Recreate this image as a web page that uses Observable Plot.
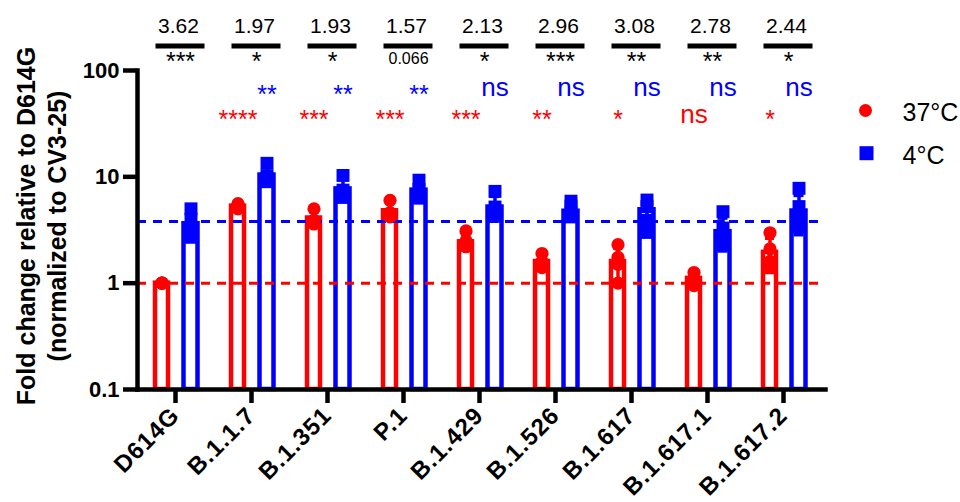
<!DOCTYPE html>
<html><head><meta charset="utf-8">
<script src="https://cdn.jsdelivr.net/npm/d3@7"></script>
<script src="https://cdn.jsdelivr.net/npm/@observablehq/plot@0.6"></script>
<style>body{margin:0;background:#fff;} g[aria-label="x-axis tick label"] text{letter-spacing:1px;}</style>
</head><body><div id="chart"></div>
<script>
const variants = ["D614G","B.1.1.7","B.1.351","P.1","B.1.429","B.1.526","B.1.617","B.1.617.1","B.1.617.2"];
const mean37 = [1.0, 5.3, 4.1, 4.8, 2.45, 1.6, 1.6, 1.11, 1.95];
const mean4  = [3.62, 10.4, 7.7, 7.5, 5.2, 4.75, 4.9, 3.05, 4.77];
const reps37 = [[1,1,1,1],[5.6,5.4,5.1,5.0],[5.0,3.9,3.8,3.6],[6.0,4.6,4.3,4.2],[3.1,2.5,2.3,2.2],[1.9,1.6,1.5,1.4],[2.3,1.75,1.5,1.0],[1.26,1.1,0.95],[2.98,2.1,1.6,1.45]];
const reps4  = [[5.0,4.0,3.3,2.7],[13.4,10.2,9.6,9.0],[10.3,7.5,6.8,6.4],[9.3,7.6,6.9,6.3],[7.3,5.2,4.6,4.3],[5.9,5.3,4.6,4.2],[6.05,5.25,3.9,3.0],[4.7,3.3,2.75,2.3],[7.8,5.25,4.2,3.4]];
const ratios = ["3.62","1.97","1.93","1.57","2.13","2.96","3.08","2.78","2.44"];
const ratioSig = ["***","*","*","0.066","*","***","**","**","*"];
const sig4  = ["","**","**","**","ns","ns","ns","ns","ns"];
const sig37 = ["","****","***","***","***","**","*","ns","*"];
const refLines = [1, 3.8];
const yTicks = [0.1, 1, 10, 100];
const legendLabels = ["37°C", "4°C"];
const yLabel = "Fold change relative to D614G\n(normalized to CV3-25)";

const RED = "#ff0000", BLUE = "#0000ff";
const rows = variants.map((v, i) => {
  const s37 = d3.deviation(reps37[i]) || 0, s4 = d3.deviation(reps4[i]) || 0;
  return {variant: v, m37: mean37[i], m4: mean4[i],
    lo37: Math.max(mean37[i] - s37, 0.11), hi37: mean37[i] + s37,
    lo4: Math.max(mean4[i] - s4, 0.11), hi4: mean4[i] + s4,
    ratio: ratios[i], rsig: ratioSig[i], s4: sig4[i], s37: sig37[i]};
});
const pts37 = variants.flatMap((v, i) => reps37[i].map(value => ({variant: v, value})));
const pts4 = variants.flatMap((v, i) => reps4[i].map(value => ({variant: v, value})));
const isStars = s => s.includes("*");

const chart = Plot.plot({
  width: 960, height: 502,
  marginLeft: 137, marginRight: 135, marginTop: 70, marginBottom: 113,
  style: {fontFamily: "'Liberation Sans', Arial, sans-serif", background: "#fff", color: "#000", overflow: "visible"},
  x: {type: "band", domain: variants, range: [132.5, 825], padding: 0},
  y: {type: "log", domain: [0.1, 100]},
  marks: [
    Plot.barY(rows, {x: "variant", y1: 0.1, y2: "m37", fill: "white", stroke: RED, strokeWidth: 4.5, insetLeft: 18, insetRight: 45}),
    Plot.barY(rows, {x: "variant", y1: 0.1, y2: "m4", fill: "white", stroke: BLUE, strokeWidth: 4.5, insetLeft: 46.5, insetRight: 15.5}),
    Plot.ruleX(rows, {x: "variant", y1: "lo37", y2: "hi37", dx: -13.5, stroke: RED, strokeWidth: 3.5}),
    Plot.tickY(rows, {x: "variant", y: "hi37", stroke: RED, strokeWidth: 3.5, insetLeft: 20, insetRight: 47}),
    Plot.tickY(rows, {x: "variant", y: "lo37", stroke: RED, strokeWidth: 3.5, insetLeft: 20, insetRight: 47}),
    Plot.ruleX(rows, {x: "variant", y1: "lo4", y2: "hi4", dx: 15.5, stroke: BLUE, strokeWidth: 3.5}),
    Plot.tickY(rows, {x: "variant", y: "hi4", stroke: BLUE, strokeWidth: 3.5, insetLeft: 48.5, insetRight: 17.5}),
    Plot.tickY(rows, {x: "variant", y: "lo4", stroke: BLUE, strokeWidth: 3.5, insetLeft: 48.5, insetRight: 17.5}),
    Plot.ruleY([refLines[0]], {stroke: RED, strokeWidth: 3, strokeDasharray: "9,7"}),
    Plot.ruleY([refLines[1]], {stroke: BLUE, strokeWidth: 3, strokeDasharray: "9,7"}),
    Plot.dot(pts37, {x: "variant", y: "value", dx: -13.5, r: 6.6, fill: RED}),
    Plot.dot(pts4, {x: "variant", y: "value", dx: 15.5, symbol: "square", r: 7.3, fill: BLUE}),
    Plot.axisY({ticks: yTicks, tickFormat: d => String(d), tickSize: 14, tickPadding: 4, fontSize: 22, fontWeight: "bold", strokeWidth: 4.5, label: null}),
    Plot.axisX({tickSize: 14, tickPadding: 8, tickRotate: -45, fontSize: 24, fontWeight: "bold", strokeWidth: 4.5, label: null}),
    Plot.frame({anchor: "left", strokeWidth: 4.5, strokeLinecap: "square"}),
    Plot.frame({anchor: "bottom", strokeWidth: 4.5, strokeLinecap: "square"}),
    // top comparison annotations
    Plot.text(rows, {x: "variant", text: "ratio", frameAnchor: "top", dy: -38, dx: 3, lineAnchor: "bottom", fontSize: 21}),
    Plot.tickY(rows, {x: "variant", y: 100, dy: -24.5, stroke: "black", strokeWidth: 5, insetLeft: 18.5, insetRight: 8.5}),
    Plot.text(rows, {x: "variant", text: "rsig", frameAnchor: "top", dy: -18, dx: 5, lineAnchor: "top", fontSize: d => isStars(d.rsig) ? 25 : 16}),
    Plot.text(rows.filter(d => isStars(d.s4)), {x: "variant", text: "s4", frameAnchor: "top", dy: 32, dx: 15.5, lineAnchor: "bottom", fontSize: 25, fill: BLUE}),
    Plot.text(rows.filter(d => d.s4 === "ns"), {x: "variant", text: "s4", frameAnchor: "top", dy: 25, dx: 15.5, lineAnchor: "bottom", fontSize: 26, fill: BLUE}),
    Plot.text(rows.filter(d => isStars(d.s37)), {x: "variant", text: "s37", frameAnchor: "top", dy: 57, dx: -13.5, lineAnchor: "bottom", fontSize: 25, fill: RED}),
    Plot.text(rows.filter(d => d.s37 === "ns"), {x: "variant", text: "s37", frameAnchor: "top", dy: 52, dx: -13.5, lineAnchor: "bottom", fontSize: 26, fill: RED}),
    // legend
    Plot.dot([legendLabels[0]], {frameAnchor: "top-right", dx: 40, dy: 40, r: 6.5, fill: RED}),
    Plot.dot([legendLabels[1]], {frameAnchor: "top-right", dx: 41, dy: 82.7, r: 7.9, symbol: "square", fill: BLUE}),
    Plot.text([legendLabels[0]], {frameAnchor: "top-right", dx: 77, dy: 50, textAnchor: "start", lineAnchor: "bottom", fontSize: 25}),
    Plot.text([legendLabels[1]], {frameAnchor: "top-right", dx: 77, dy: 93, textAnchor: "start", lineAnchor: "bottom", fontSize: 25}),
    // y label
    Plot.text([yLabel], {frameAnchor: "left", rotate: -90, dx: -97, dy: -4, fontSize: 25, fontWeight: "bold", lineHeight: 1.25, textAnchor: "middle", lineAnchor: "middle"})
  ]
});
document.getElementById("chart").appendChild(chart);
</script>
</body></html>
